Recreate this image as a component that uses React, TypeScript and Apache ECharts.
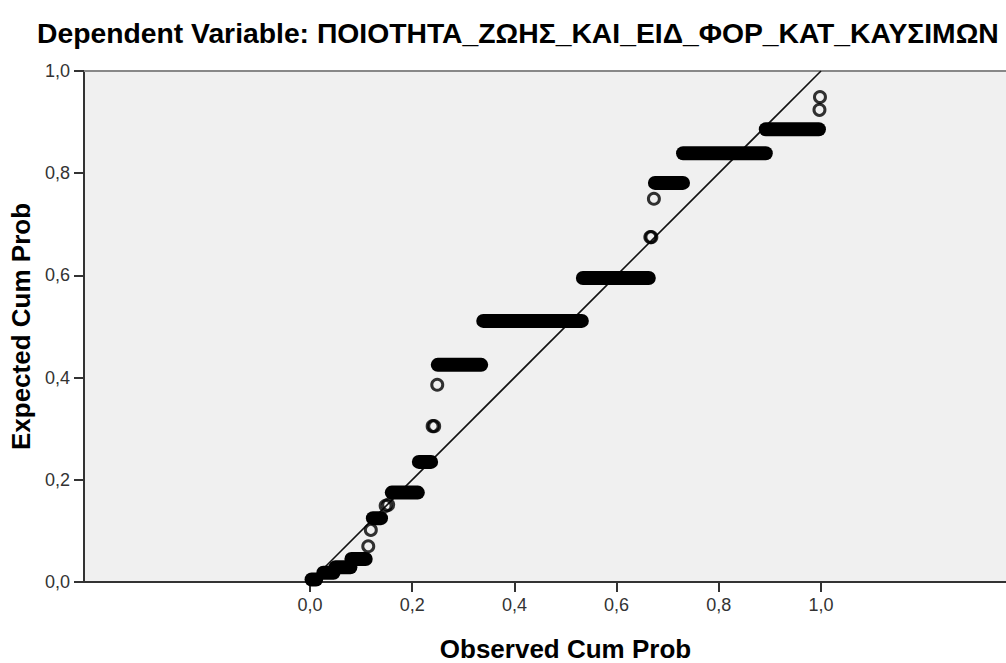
import React, { useEffect, useRef } from "react";
import * as echarts from "echarts";

// Runs of tied residuals (horizontal runs of points): y value, first x, last x
const runY = [0.005, 0.018, 0.029, 0.045, 0.125, 0.175, 0.235, 0.425, 0.511, 0.595, 0.781, 0.839, 0.886];
const runX0 = [0.003, 0.026, 0.050, 0.081, 0.123, 0.160, 0.213, 0.250, 0.339, 0.534, 0.675, 0.730, 0.892];
const runX1 = [0.012, 0.046, 0.079, 0.109, 0.139, 0.211, 0.237, 0.335, 0.532, 0.663, 0.730, 0.892, 0.996];

// Isolated points
const ptX = [0.114, 0.119, 0.148, 0.153, 0.240, 0.243, 0.249, 0.666, 0.668, 0.673, 0.997, 0.998];
const ptY = [0.070, 0.102, 0.149, 0.151, 0.305, 0.305, 0.386, 0.675, 0.675, 0.750, 0.924, 0.949];

const xTicks = [0, 0.2, 0.4, 0.6, 0.8, 1.0];

const titleText = "Dependent Variable: ΠΟΙΟΤΗΤΑ_ΖΩΗΣ_ΚΑΙ_ΕΙΔ_ΦΟΡ_ΚΑΤ_ΚΑΥΣΙΜΩΝ";
const xName = "Observed Cum Prob";
const yName = "Expected Cum Prob";

const FONT = "'Liberation Sans', Arial, sans-serif";
const fmt = (v: number) => v.toFixed(1).replace(".", ",");

export default function App() {
  const ref = useRef<HTMLDivElement>(null);
  useEffect(() => {
    if (!ref.current) return;
    const chart = echarts.init(ref.current, null, { renderer: "svg" });

    const runSeries = runY.map((y, i) => ({
      type: "line",
      data: [
        [runX0[i], y],
        [runX1[i], y],
      ],
      showSymbol: false,
      symbol: "none",
      clip: false,
      silent: true,
      lineStyle: { color: "#000", width: 14, cap: "round" },
      z: 3,
    }));

    chart.setOption({
      animation: false,
      backgroundColor: "#fff",
      title: {
        text: titleText,
        left: 32,
        top: 14,
        textStyle: { fontFamily: FONT, fontSize: 28.3, fontWeight: "bold", color: "#000" },
      },
      grid: {
        left: 84,
        top: 71,
        right: -41,
        bottom: 81,
        show: true,
        backgroundColor: "#F0F0F0",
        borderWidth: 0,
        containLabel: false,
        outerBoundsMode: "none",
      },
      xAxis: [
        {
          type: "value",
          min: -0.4423,
          max: 1.4423,
          position: "bottom",
          name: xName,
          nameLocation: "middle",
          nameGap: 54,
          nameTextStyle: { fontFamily: FONT, fontSize: 26, fontWeight: "bold", color: "#000" },
          axisLine: { show: true, onZero: false, lineStyle: { color: "#333", width: 2 } },
          axisTick: { show: true, customValues: xTicks, length: 10, lineStyle: { color: "#333", width: 2 } },
          axisLabel: {
            customValues: xTicks,
            formatter: (v: number) => fmt(v),
            fontFamily: FONT,
            fontSize: 18,
            color: "#333",
            margin: 14,
          },
          splitLine: { show: false },
        },
        {
          type: "value",
          min: -0.4423,
          max: 1.4423,
          position: "top",
          axisLine: { show: true, onZero: false, lineStyle: { color: "#888", width: 2 } },
          axisTick: { show: false },
          axisLabel: { show: false },
          splitLine: { show: false },
        },
      ],
      yAxis: {
        type: "value",
        min: 0,
        max: 1,
        interval: 0.2,
        name: yName,
        nameLocation: "middle",
        nameGap: 50,
        nameTextStyle: { fontFamily: FONT, fontSize: 26, fontWeight: "bold", color: "#000" },
        axisLine: { show: true, onZero: false, lineStyle: { color: "#333", width: 2 } },
        axisTick: { show: true, length: 10, lineStyle: { color: "#333", width: 2 } },
        axisLabel: {
          formatter: (v: number) => fmt(v),
          fontFamily: FONT,
          fontSize: 18,
          color: "#333",
          margin: 14,
        },
        splitLine: { show: false },
      },
      series: [
        {
          type: "line",
          data: [
            [0, 0],
            [1, 1],
          ],
          showSymbol: false,
          symbol: "none",
          silent: true,
          lineStyle: { color: "#111", width: 1.6 },
          z: 2,
        },
        ...runSeries,
        {
          type: "scatter",
          data: ptX.map((x, i) => [x, ptY[i]]),
          symbol: "circle",
          symbolSize: 11,
          clip: false,
          silent: true,
          itemStyle: { color: "rgba(0,0,0,0)", borderColor: "#000", borderWidth: 3 },
          z: 4,
        },
      ],
    });
    return () => chart.dispose();
  }, []);
  return <div ref={ref} style={{ width: 1006, height: 663, position: "absolute", left: 0, top: 0 }} />;
}
